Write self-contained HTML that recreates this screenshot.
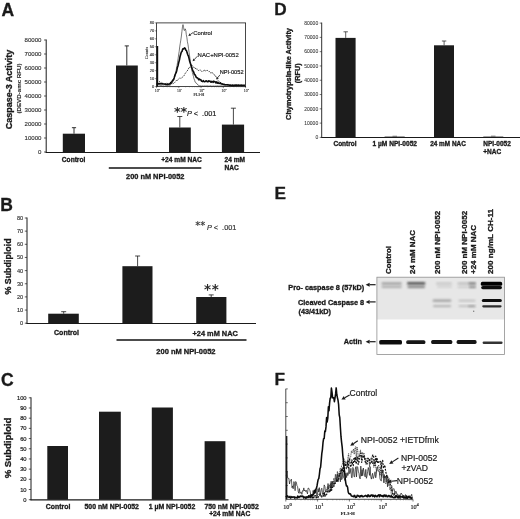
<!DOCTYPE html>
<html lang="en">
<head>
<meta charset="utf-8">
<title>Figure</title>
<style>
html,body{margin:0;padding:0;background:#fff;}
body{width:520px;height:519px;overflow:hidden;}
svg{display:block;filter:blur(0.4px);font-family:"Liberation Sans",sans-serif;fill:#1a1a1a;}
</style>
</head>
<body>
<svg width="520" height="519" viewBox="0 0 520 519">
<defs>
<filter id="b6" x="-10%" y="-60%" width="120%" height="220%"><feGaussianBlur stdDeviation="0.6"/></filter>
<filter id="b7" x="-10%" y="-60%" width="120%" height="220%"><feGaussianBlur stdDeviation="0.7"/></filter>
<filter id="b8" x="-10%" y="-60%" width="120%" height="220%"><feGaussianBlur stdDeviation="0.8"/></filter>
<filter id="b9" x="-10%" y="-80%" width="120%" height="260%"><feGaussianBlur stdDeviation="0.9"/></filter>
</defs>
<rect width="520" height="519" fill="#fff"/>
<text x="1.50" y="15.60" font-size="17.5" stroke="#1a1a1a" stroke-width="0.32" font-weight="bold">A</text>
<line x1="46.20" y1="39.50" x2="46.20" y2="152.80" stroke="#1a1a1a" stroke-width="1.0" />
<line x1="45.70" y1="152.50" x2="260.00" y2="152.50" stroke="#1a1a1a" stroke-width="1.1" />
<line x1="44.00" y1="152.00" x2="46.20" y2="152.00" stroke="#1a1a1a" stroke-width="0.7" />
<text x="41.50" y="154.20" font-size="6.1" stroke="#2c2c2c" stroke-width="0.12" text-anchor="end" fill="#2c2c2c">0</text>
<line x1="44.00" y1="138.00" x2="46.20" y2="138.00" stroke="#1a1a1a" stroke-width="0.7" />
<text x="41.50" y="140.20" font-size="6.1" stroke="#2c2c2c" stroke-width="0.12" text-anchor="end" fill="#2c2c2c">10000</text>
<line x1="44.00" y1="124.00" x2="46.20" y2="124.00" stroke="#1a1a1a" stroke-width="0.7" />
<text x="41.50" y="126.20" font-size="6.1" stroke="#2c2c2c" stroke-width="0.12" text-anchor="end" fill="#2c2c2c">20000</text>
<line x1="44.00" y1="110.00" x2="46.20" y2="110.00" stroke="#1a1a1a" stroke-width="0.7" />
<text x="41.50" y="112.20" font-size="6.1" stroke="#2c2c2c" stroke-width="0.12" text-anchor="end" fill="#2c2c2c">30000</text>
<line x1="44.00" y1="96.00" x2="46.20" y2="96.00" stroke="#1a1a1a" stroke-width="0.7" />
<text x="41.50" y="98.20" font-size="6.1" stroke="#2c2c2c" stroke-width="0.12" text-anchor="end" fill="#2c2c2c">40000</text>
<line x1="44.00" y1="82.00" x2="46.20" y2="82.00" stroke="#1a1a1a" stroke-width="0.7" />
<text x="41.50" y="84.20" font-size="6.1" stroke="#2c2c2c" stroke-width="0.12" text-anchor="end" fill="#2c2c2c">50000</text>
<line x1="44.00" y1="68.00" x2="46.20" y2="68.00" stroke="#1a1a1a" stroke-width="0.7" />
<text x="41.50" y="70.20" font-size="6.1" stroke="#2c2c2c" stroke-width="0.12" text-anchor="end" fill="#2c2c2c">60000</text>
<line x1="44.00" y1="54.00" x2="46.20" y2="54.00" stroke="#1a1a1a" stroke-width="0.7" />
<text x="41.50" y="56.20" font-size="6.1" stroke="#2c2c2c" stroke-width="0.12" text-anchor="end" fill="#2c2c2c">70000</text>
<line x1="44.00" y1="40.00" x2="46.20" y2="40.00" stroke="#1a1a1a" stroke-width="0.7" />
<text x="41.50" y="42.20" font-size="6.1" stroke="#2c2c2c" stroke-width="0.12" text-anchor="end" fill="#2c2c2c">80000</text>
<text x="11.80" y="89.50" font-size="9" stroke="#1a1a1a" stroke-width="0.32" font-weight="bold" text-anchor="middle" transform="rotate(-90 11.80 89.50)">Caspase-3 Activity</text>
<text x="20.60" y="88.50" font-size="6.2" stroke="#2a2a2a" stroke-width="0.1" font-weight="bold" text-anchor="middle" fill="#2a2a2a" transform="rotate(-90 20.60 88.50)">(DEVD-amc RFU)</text>
<rect x="62.80" y="133.70" width="22.20" height="18.30" fill="#1c1c1c" />
<line x1="74.00" y1="127.70" x2="74.00" y2="133.70" stroke="#1a1a1a" stroke-width="0.9" />
<line x1="71.90" y1="127.70" x2="76.10" y2="127.70" stroke="#1a1a1a" stroke-width="0.9" />
<rect x="116.00" y="65.50" width="21.80" height="86.50" fill="#1c1c1c" />
<line x1="126.80" y1="45.90" x2="126.80" y2="65.50" stroke="#1a1a1a" stroke-width="0.9" />
<line x1="124.70" y1="45.90" x2="128.90" y2="45.90" stroke="#1a1a1a" stroke-width="0.9" />
<rect x="169.00" y="127.50" width="21.80" height="24.50" fill="#1c1c1c" />
<line x1="179.80" y1="116.50" x2="179.80" y2="127.50" stroke="#1a1a1a" stroke-width="0.8" />
<line x1="177.30" y1="116.50" x2="182.30" y2="116.50" stroke="#1a1a1a" stroke-width="0.8" />
<rect x="221.90" y="124.60" width="22.20" height="27.40" fill="#1c1c1c" />
<line x1="233.40" y1="108.20" x2="233.40" y2="124.60" stroke="#1a1a1a" stroke-width="0.8" />
<line x1="230.90" y1="108.20" x2="235.90" y2="108.20" stroke="#1a1a1a" stroke-width="0.8" />
<text x="73.60" y="162.40" font-size="6.6" stroke="#1a1a1a" stroke-width="0.32" font-weight="bold" text-anchor="middle">Control</text>
<text x="181.50" y="162.40" font-size="6.6" stroke="#1a1a1a" stroke-width="0.32" font-weight="bold" text-anchor="middle">+24 mM NAC</text>
<text x="224.50" y="162.40" font-size="6.6" stroke="#1a1a1a" stroke-width="0.32" font-weight="bold">24 mM</text>
<text x="224.50" y="170.30" font-size="6.6" stroke="#1a1a1a" stroke-width="0.32" font-weight="bold">NAC</text>
<line x1="108.80" y1="168.00" x2="201.30" y2="168.00" stroke="#111" stroke-width="1.3" />
<text x="155.20" y="179.10" font-size="7.4" stroke="#1a1a1a" stroke-width="0.32" font-weight="bold" text-anchor="middle">200 nM NPI-0052</text>
<text x="173.90" y="116.00" font-size="12.8" font-weight="bold" font-family="'DejaVu Sans',sans-serif" fill="#2a2a2a">**</text>
<text x="186.90" y="116.20" font-size="7.3" stroke="#1a1a1a" stroke-width="0.18"><tspan font-style="italic">P</tspan> &lt;&#160; .001</text>
<rect x="156.6" y="22.9" width="89.0" height="63.7" fill="#fff" stroke="#1a1a1a" stroke-width="0.8"/>
<line x1="156.60" y1="86.60" x2="156.60" y2="88.10" stroke="#1a1a1a" stroke-width="0.5" />
<text x="154.80" y="91.60" font-size="3.8" stroke="#333" stroke-width="0.1" font-family="'Liberation Serif',serif" fill="#333">10<tspan dy="-1.5" font-size="2.8">0</tspan></text>
<line x1="163.30" y1="86.60" x2="163.30" y2="87.50" stroke="#555" stroke-width="0.3" />
<line x1="167.22" y1="86.60" x2="167.22" y2="87.50" stroke="#555" stroke-width="0.3" />
<line x1="170.00" y1="86.60" x2="170.00" y2="87.50" stroke="#555" stroke-width="0.3" />
<line x1="172.15" y1="86.60" x2="172.15" y2="87.50" stroke="#555" stroke-width="0.3" />
<line x1="173.91" y1="86.60" x2="173.91" y2="87.50" stroke="#555" stroke-width="0.3" />
<line x1="175.40" y1="86.60" x2="175.40" y2="87.50" stroke="#555" stroke-width="0.3" />
<line x1="176.69" y1="86.60" x2="176.69" y2="87.50" stroke="#555" stroke-width="0.3" />
<line x1="177.83" y1="86.60" x2="177.83" y2="87.50" stroke="#555" stroke-width="0.3" />
<line x1="178.85" y1="86.60" x2="178.85" y2="88.10" stroke="#1a1a1a" stroke-width="0.5" />
<text x="177.05" y="91.60" font-size="3.8" stroke="#333" stroke-width="0.1" font-family="'Liberation Serif',serif" fill="#333">10<tspan dy="-1.5" font-size="2.8">1</tspan></text>
<line x1="185.55" y1="86.60" x2="185.55" y2="87.50" stroke="#555" stroke-width="0.3" />
<line x1="189.47" y1="86.60" x2="189.47" y2="87.50" stroke="#555" stroke-width="0.3" />
<line x1="192.25" y1="86.60" x2="192.25" y2="87.50" stroke="#555" stroke-width="0.3" />
<line x1="194.40" y1="86.60" x2="194.40" y2="87.50" stroke="#555" stroke-width="0.3" />
<line x1="196.16" y1="86.60" x2="196.16" y2="87.50" stroke="#555" stroke-width="0.3" />
<line x1="197.65" y1="86.60" x2="197.65" y2="87.50" stroke="#555" stroke-width="0.3" />
<line x1="198.94" y1="86.60" x2="198.94" y2="87.50" stroke="#555" stroke-width="0.3" />
<line x1="200.08" y1="86.60" x2="200.08" y2="87.50" stroke="#555" stroke-width="0.3" />
<line x1="201.10" y1="86.60" x2="201.10" y2="88.10" stroke="#1a1a1a" stroke-width="0.5" />
<text x="199.30" y="91.60" font-size="3.8" stroke="#333" stroke-width="0.1" font-family="'Liberation Serif',serif" fill="#333">10<tspan dy="-1.5" font-size="2.8">2</tspan></text>
<line x1="207.80" y1="86.60" x2="207.80" y2="87.50" stroke="#555" stroke-width="0.3" />
<line x1="211.72" y1="86.60" x2="211.72" y2="87.50" stroke="#555" stroke-width="0.3" />
<line x1="214.50" y1="86.60" x2="214.50" y2="87.50" stroke="#555" stroke-width="0.3" />
<line x1="216.65" y1="86.60" x2="216.65" y2="87.50" stroke="#555" stroke-width="0.3" />
<line x1="218.41" y1="86.60" x2="218.41" y2="87.50" stroke="#555" stroke-width="0.3" />
<line x1="219.90" y1="86.60" x2="219.90" y2="87.50" stroke="#555" stroke-width="0.3" />
<line x1="221.19" y1="86.60" x2="221.19" y2="87.50" stroke="#555" stroke-width="0.3" />
<line x1="222.33" y1="86.60" x2="222.33" y2="87.50" stroke="#555" stroke-width="0.3" />
<line x1="223.35" y1="86.60" x2="223.35" y2="88.10" stroke="#1a1a1a" stroke-width="0.5" />
<text x="221.55" y="91.60" font-size="3.8" stroke="#333" stroke-width="0.1" font-family="'Liberation Serif',serif" fill="#333">10<tspan dy="-1.5" font-size="2.8">3</tspan></text>
<line x1="230.05" y1="86.60" x2="230.05" y2="87.50" stroke="#555" stroke-width="0.3" />
<line x1="233.97" y1="86.60" x2="233.97" y2="87.50" stroke="#555" stroke-width="0.3" />
<line x1="236.75" y1="86.60" x2="236.75" y2="87.50" stroke="#555" stroke-width="0.3" />
<line x1="238.90" y1="86.60" x2="238.90" y2="87.50" stroke="#555" stroke-width="0.3" />
<line x1="240.66" y1="86.60" x2="240.66" y2="87.50" stroke="#555" stroke-width="0.3" />
<line x1="242.15" y1="86.60" x2="242.15" y2="87.50" stroke="#555" stroke-width="0.3" />
<line x1="243.44" y1="86.60" x2="243.44" y2="87.50" stroke="#555" stroke-width="0.3" />
<line x1="244.58" y1="86.60" x2="244.58" y2="87.50" stroke="#555" stroke-width="0.3" />
<line x1="245.60" y1="86.60" x2="245.60" y2="88.10" stroke="#1a1a1a" stroke-width="0.5" />
<text x="243.80" y="91.60" font-size="3.8" stroke="#333" stroke-width="0.1" font-family="'Liberation Serif',serif" fill="#333">10<tspan dy="-1.5" font-size="2.8">4</tspan></text>
<line x1="155.10" y1="86.60" x2="156.60" y2="86.60" stroke="#1a1a1a" stroke-width="0.5" />
<text x="154.30" y="88.00" font-size="4.0" stroke="#333" stroke-width="0.14" text-anchor="end" fill="#333">0</text>
<line x1="155.10" y1="78.64" x2="156.60" y2="78.64" stroke="#1a1a1a" stroke-width="0.5" />
<text x="154.30" y="80.04" font-size="4.0" stroke="#333" stroke-width="0.14" text-anchor="end" fill="#333">10</text>
<line x1="155.10" y1="70.67" x2="156.60" y2="70.67" stroke="#1a1a1a" stroke-width="0.5" />
<text x="154.30" y="72.08" font-size="4.0" stroke="#333" stroke-width="0.14" text-anchor="end" fill="#333">20</text>
<line x1="155.10" y1="62.71" x2="156.60" y2="62.71" stroke="#1a1a1a" stroke-width="0.5" />
<text x="154.30" y="64.11" font-size="4.0" stroke="#333" stroke-width="0.14" text-anchor="end" fill="#333">30</text>
<line x1="155.10" y1="54.75" x2="156.60" y2="54.75" stroke="#1a1a1a" stroke-width="0.5" />
<text x="154.30" y="56.15" font-size="4.0" stroke="#333" stroke-width="0.14" text-anchor="end" fill="#333">40</text>
<line x1="155.10" y1="46.79" x2="156.60" y2="46.79" stroke="#1a1a1a" stroke-width="0.5" />
<text x="154.30" y="48.19" font-size="4.0" stroke="#333" stroke-width="0.14" text-anchor="end" fill="#333">50</text>
<line x1="155.10" y1="38.82" x2="156.60" y2="38.82" stroke="#1a1a1a" stroke-width="0.5" />
<text x="154.30" y="40.22" font-size="4.0" stroke="#333" stroke-width="0.14" text-anchor="end" fill="#333">60</text>
<line x1="155.10" y1="30.86" x2="156.60" y2="30.86" stroke="#1a1a1a" stroke-width="0.5" />
<text x="154.30" y="32.26" font-size="4.0" stroke="#333" stroke-width="0.14" text-anchor="end" fill="#333">70</text>
<line x1="155.10" y1="22.90" x2="156.60" y2="22.90" stroke="#1a1a1a" stroke-width="0.5" />
<text x="154.30" y="24.30" font-size="4.0" stroke="#333" stroke-width="0.14" text-anchor="end" fill="#333">80</text>
<text x="148.20" y="53.00" font-size="4.4" stroke="#333" stroke-width="0.1" text-anchor="middle" font-family="'Liberation Serif',serif" fill="#333" transform="rotate(-90 148.20 53.00)">Counts</text>
<text x="198.80" y="95.60" font-size="3.7" stroke="#333" stroke-width="0.1" font-weight="bold" text-anchor="middle" font-family="'Liberation Serif',serif" fill="#333">FL3-H</text>
<polyline points="156.6,84.2 157.2,84.5 157.7,84.0 158.3,84.9 158.8,84.6 159.4,85.0 159.9,85.3 160.5,85.4 161.0,85.7 161.6,85.7 162.1,86.0 162.7,86.0 163.2,86.0 163.8,85.8 164.3,86.1 164.9,86.1 165.4,85.9 166.0,85.8 166.5,85.9 167.1,85.9 167.6,85.6 168.2,85.9 168.7,85.4 169.3,85.5 169.8,85.3 170.4,85.0 170.9,84.6 171.5,83.5 172.0,83.5 172.6,82.2 173.1,81.0 173.7,80.0 174.2,78.2 174.8,76.9 175.3,74.7 175.9,72.1 176.4,68.7 177.0,65.8 177.5,62.6 178.1,58.6 178.6,55.0 179.2,51.3 179.7,46.9 180.3,43.2 180.8,40.1 181.4,36.0 181.9,31.6 182.5,26.6 183.0,24.6 183.6,27.6 184.1,30.4 184.7,30.4 185.2,28.8 185.8,30.4 186.3,34.6 186.9,37.7 187.4,41.7 188.0,44.6 188.5,48.3 189.1,52.4 189.6,55.9 190.2,60.3 190.7,63.4 191.3,66.8 191.8,69.8 192.4,72.7 192.9,74.6 193.5,76.6 194.0,78.9 194.6,80.2 195.1,82.1 195.7,82.4 196.2,83.3 196.8,83.5 197.3,84.2 197.9,85.0 198.4,85.3 199.0,85.4 199.5,85.8 200.1,85.7 200.6,85.9 201.2,86.0 201.7,86.1 202.3,85.8 202.8,86.1 203.4,86.1 203.9,86.0 204.5,85.9 205.0,86.1 205.6,86.0 206.1,86.0 206.7,85.9 207.2,85.9 207.8,85.9 208.3,86.1 208.9,86.0 209.4,86.1 210.0,85.9 210.5,85.8 211.1,86.1 211.6,86.1 212.2,86.1 212.7,86.1 213.3,86.0 213.8,86.0 214.4,86.1 214.9,86.2 215.5,86.0 216.0,86.0 216.6,86.0 217.1,85.8 217.7,85.9 218.2,86.0 218.8,86.0 219.3,85.9 219.9,86.2 220.4,85.9 221.0,85.9 221.5,85.9 222.1,85.9 222.6,86.0 223.2,86.0 223.7,86.1 224.3,86.0 224.8,86.2 225.4,86.2 225.9,86.1 226.5,86.1 227.0,86.1 227.6,86.2 228.1,86.2 228.7,86.1 229.2,86.1 229.8,86.0 230.3,86.2 230.9,85.9 231.4,86.0 232.0,86.1 232.5,86.1 233.1,86.1 233.6,86.0 234.2,86.1 234.7,85.9 235.3,85.8 235.8,86.0 236.4,86.0 236.9,86.1 237.5,86.1 238.0,86.1 238.6,86.1 239.1,85.9 239.7,86.1 240.2,86.2 240.8,85.8 241.3,86.0 241.9,86.1 242.4,86.0 243.0,86.2 243.5,86.0 244.1,85.8 244.6,85.9 245.2,85.9" fill="none" stroke="#1c1c1c" stroke-width="0.6" stroke-linejoin="round" />
<polyline points="159.1,81.2 159.9,81.9 160.7,83.0 161.5,82.4 162.3,83.2 163.1,83.1 163.9,84.1 164.7,84.5 165.5,83.5 166.3,83.2 167.1,83.4 167.9,83.5 168.7,83.4 169.5,83.4 170.3,84.1 171.1,83.4 171.9,83.5 172.7,83.8 173.5,83.4 174.3,82.6 175.1,82.3 175.9,81.0 176.7,80.1 177.5,80.5 178.3,79.1 179.1,78.4 179.9,77.9 180.7,78.3 181.5,78.0 182.3,77.3 183.1,76.7 183.9,75.9 184.7,74.3 185.5,72.9 186.3,71.9 187.1,71.3 187.9,69.7 188.7,68.2 189.5,68.3 190.3,66.4 191.1,65.4 191.9,65.5 192.7,65.8 193.5,66.8 194.3,68.1 195.1,67.8 195.9,69.3 196.7,69.0 197.5,69.2 198.3,70.5 199.1,70.7 199.9,69.8 200.7,70.3 201.5,71.3 202.3,71.4 203.1,71.3 203.9,70.0 204.7,70.2 205.5,71.4 206.3,70.3 207.1,70.1 207.9,70.8 208.7,71.6 209.5,71.5 210.3,72.6 211.1,73.2 211.9,72.0 212.7,73.2 213.5,74.2 214.3,74.3 215.1,76.2 215.9,76.4 216.7,77.6 217.5,79.7 218.3,80.7 219.1,81.5 219.9,82.4 220.7,82.5 221.5,83.7 222.3,83.9 223.1,84.8 223.9,83.7 224.7,84.9 225.5,84.9 226.3,84.8 227.1,84.3 227.9,85.3 228.7,84.5 229.5,85.3 230.3,85.2 231.1,85.3 231.9,86.2 232.7,85.5 233.5,85.9 234.3,86.3 235.1,84.8 235.9,86.0 236.7,85.4 237.5,85.0" fill="none" stroke="#151515" stroke-width="0.8" stroke-linejoin="round" stroke-dasharray="1.3 0.8"/>
<line x1="157.40" y1="46.00" x2="157.40" y2="86.60" stroke="#111" stroke-width="1.6" />
<polyline points="156.6,84.0 157.2,84.0 157.9,83.8 158.6,83.7 159.2,83.6 159.9,83.9 160.5,83.7 161.2,83.8 161.8,83.9 162.5,83.8 163.1,84.0 163.8,84.0 164.4,84.0 165.1,84.1 165.7,84.4 166.4,84.3 167.0,84.4 167.7,84.4 168.3,84.2 169.0,84.2 169.6,83.9 170.3,83.6 170.9,82.4 171.6,82.1 172.2,81.1 172.9,80.0 173.5,79.7 174.2,77.8 174.8,75.6 175.5,73.8 176.1,72.7 176.8,70.4 177.4,67.4 178.1,65.4 178.7,62.5 179.4,60.1 180.0,56.8 180.7,54.3 181.3,52.1 182.0,51.5 182.6,49.4 183.3,48.6 183.9,48.9 184.6,47.9 185.2,48.3 185.9,50.3 186.5,50.6 187.2,53.1 187.8,54.8 188.5,56.2 189.1,58.6 189.8,61.7 190.4,63.5 191.1,65.4 191.7,67.6 192.4,69.6 193.0,71.1 193.7,72.0 194.3,74.3 195.0,74.7 195.6,75.9 196.3,77.4 196.9,77.8 197.6,78.0 198.2,78.8 198.9,79.9 199.5,79.0 200.2,79.7 200.8,79.7 201.5,81.2 202.1,81.2 202.8,81.6 203.4,80.7 204.1,81.5 204.7,81.8 205.4,81.4 206.0,80.7 206.7,80.9 207.3,81.7 208.0,81.8 208.6,80.8 209.3,81.3 209.9,81.1 210.6,82.0 211.2,82.1 211.9,81.3 212.5,81.7 213.2,82.3 213.8,81.2 214.5,81.8 215.1,81.7 215.8,82.9 216.4,81.9 217.1,83.2 217.7,82.3 218.4,83.0 219.0,83.4 219.7,83.2 220.3,82.9 221.0,83.7 221.6,84.0 222.3,83.9 222.9,84.2 223.6,84.4 224.2,84.5 224.9,84.7 225.5,84.7 226.2,84.8 226.8,84.8 227.5,84.7 228.1,85.0 228.8,85.0 229.4,85.2 230.1,85.1 230.7,85.3 231.4,85.2 232.0,85.4 232.7,85.1 233.3,85.2 234.0,85.4 234.6,85.3 235.3,85.1 235.9,85.4 236.6,85.1 237.2,85.3 237.9,85.3 238.5,85.1 239.2,85.3 239.8,85.3 240.5,85.2 241.1,85.1 241.8,85.4 242.4,85.2 243.1,85.2 243.7,85.2 244.4,85.3 245.0,85.4" fill="none" stroke="#0c0c0c" stroke-width="1.6" stroke-linejoin="round" />
<text x="193.30" y="34.60" font-size="5.8" stroke="#1a1a1a" stroke-width="0.18">Control</text>
<line x1="193.00" y1="32.60" x2="190.43" y2="34.41" stroke="#1a1a1a" stroke-width="0.8" />
<polygon points="188.30,35.90 189.68,33.34 191.17,35.47" fill="#1a1a1a"/>
<text x="197.60" y="56.90" font-size="5.95" stroke="#1a1a1a" stroke-width="0.18">NAC+NPI-0052</text>
<line x1="197.40" y1="56.20" x2="194.38" y2="59.41" stroke="#1a1a1a" stroke-width="0.8" />
<polygon points="192.60,61.30 193.44,58.52 195.33,60.30" fill="#1a1a1a"/>
<text x="219.70" y="74.20" font-size="5.65" stroke="#1a1a1a" stroke-width="0.18">NPI-0052</text>
<line x1="220.00" y1="74.80" x2="217.83" y2="77.48" stroke="#1a1a1a" stroke-width="0.8" />
<polygon points="216.20,79.50 216.82,76.66 218.85,78.30" fill="#1a1a1a"/>
<text x="0.30" y="211.20" font-size="17.5" stroke="#1a1a1a" stroke-width="0.32" font-weight="bold">B</text>
<line x1="27.00" y1="217.50" x2="27.00" y2="323.70" stroke="#1a1a1a" stroke-width="1.0" />
<line x1="26.50" y1="323.50" x2="256.00" y2="323.50" stroke="#1a1a1a" stroke-width="1.1" />
<line x1="24.80" y1="323.20" x2="27.00" y2="323.20" stroke="#1a1a1a" stroke-width="0.7" />
<text x="23.20" y="325.20" font-size="5.6" stroke="#2c2c2c" stroke-width="0.12" text-anchor="end" fill="#2c2c2c">0</text>
<line x1="24.80" y1="310.05" x2="27.00" y2="310.05" stroke="#1a1a1a" stroke-width="0.7" />
<text x="23.20" y="312.05" font-size="5.6" stroke="#2c2c2c" stroke-width="0.12" text-anchor="end" fill="#2c2c2c">10</text>
<line x1="24.80" y1="296.90" x2="27.00" y2="296.90" stroke="#1a1a1a" stroke-width="0.7" />
<text x="23.20" y="298.90" font-size="5.6" stroke="#2c2c2c" stroke-width="0.12" text-anchor="end" fill="#2c2c2c">20</text>
<line x1="24.80" y1="283.75" x2="27.00" y2="283.75" stroke="#1a1a1a" stroke-width="0.7" />
<text x="23.20" y="285.75" font-size="5.6" stroke="#2c2c2c" stroke-width="0.12" text-anchor="end" fill="#2c2c2c">30</text>
<line x1="24.80" y1="270.60" x2="27.00" y2="270.60" stroke="#1a1a1a" stroke-width="0.7" />
<text x="23.20" y="272.60" font-size="5.6" stroke="#2c2c2c" stroke-width="0.12" text-anchor="end" fill="#2c2c2c">40</text>
<line x1="24.80" y1="257.45" x2="27.00" y2="257.45" stroke="#1a1a1a" stroke-width="0.7" />
<text x="23.20" y="259.45" font-size="5.6" stroke="#2c2c2c" stroke-width="0.12" text-anchor="end" fill="#2c2c2c">50</text>
<line x1="24.80" y1="244.30" x2="27.00" y2="244.30" stroke="#1a1a1a" stroke-width="0.7" />
<text x="23.20" y="246.30" font-size="5.6" stroke="#2c2c2c" stroke-width="0.12" text-anchor="end" fill="#2c2c2c">60</text>
<line x1="24.80" y1="231.15" x2="27.00" y2="231.15" stroke="#1a1a1a" stroke-width="0.7" />
<text x="23.20" y="233.15" font-size="5.6" stroke="#2c2c2c" stroke-width="0.12" text-anchor="end" fill="#2c2c2c">70</text>
<line x1="24.80" y1="218.00" x2="27.00" y2="218.00" stroke="#1a1a1a" stroke-width="0.7" />
<text x="23.20" y="220.00" font-size="5.6" stroke="#2c2c2c" stroke-width="0.12" text-anchor="end" fill="#2c2c2c">80</text>
<text x="11.10" y="266.50" font-size="8.9" stroke="#1a1a1a" stroke-width="0.32" font-weight="bold" text-anchor="middle" transform="rotate(-90 11.10 266.50)">% Subdiploid</text>
<rect x="48.20" y="313.70" width="30.60" height="9.50" fill="#1c1c1c" />
<line x1="63.70" y1="311.70" x2="63.70" y2="313.70" stroke="#1a1a1a" stroke-width="0.8" />
<line x1="61.20" y1="311.70" x2="66.20" y2="311.70" stroke="#1a1a1a" stroke-width="0.8" />
<rect x="122.40" y="266.20" width="30.10" height="57.00" fill="#1c1c1c" />
<line x1="137.60" y1="256.00" x2="137.60" y2="266.20" stroke="#1a1a1a" stroke-width="0.8" />
<line x1="135.10" y1="256.00" x2="140.10" y2="256.00" stroke="#1a1a1a" stroke-width="0.8" />
<rect x="196.20" y="297.00" width="30.20" height="26.20" fill="#1c1c1c" />
<line x1="211.20" y1="294.90" x2="211.20" y2="297.00" stroke="#1a1a1a" stroke-width="0.8" />
<line x1="208.70" y1="294.90" x2="213.70" y2="294.90" stroke="#1a1a1a" stroke-width="0.8" />
<text x="66.50" y="335.00" font-size="7.0" stroke="#1a1a1a" stroke-width="0.32" font-weight="bold" text-anchor="middle">Control</text>
<text x="215.20" y="335.60" font-size="7.4" stroke="#1a1a1a" stroke-width="0.32" font-weight="bold" text-anchor="middle">+24 mM NAC</text>
<line x1="116.50" y1="340.00" x2="246.50" y2="340.00" stroke="#111" stroke-width="1.3" />
<text x="185.90" y="353.60" font-size="7.5" stroke="#1a1a1a" stroke-width="0.32" font-weight="bold" text-anchor="middle">200 nM NPI-0052</text>
<text x="207.60" y="294.10" font-size="13.5" font-weight="bold" text-anchor="middle" font-family="'DejaVu Sans',sans-serif" fill="#2a2a2a">*</text>
<text x="215.40" y="294.10" font-size="13.5" font-weight="bold" text-anchor="middle" font-family="'DejaVu Sans',sans-serif" fill="#2a2a2a">*</text>
<text x="195.20" y="229.00" font-size="9.6" font-weight="bold" font-family="'DejaVu Sans',sans-serif" fill="#444">**</text>
<text x="206.90" y="229.80" font-size="7.3" stroke="#333" stroke-width="0.18" fill="#333"><tspan font-style="italic">P</tspan> &lt;&#160; .001</text>
<text x="1.00" y="386.00" font-size="17.5" stroke="#1a1a1a" stroke-width="0.32" font-weight="bold">C</text>
<line x1="31.00" y1="397.30" x2="31.00" y2="500.20" stroke="#1a1a1a" stroke-width="1.0" />
<line x1="30.50" y1="499.90" x2="228.50" y2="499.90" stroke="#1a1a1a" stroke-width="1.1" />
<line x1="28.80" y1="499.70" x2="31.00" y2="499.70" stroke="#1a1a1a" stroke-width="0.7" />
<text x="26.60" y="501.80" font-size="5.8" stroke="#1c1c1c" stroke-width="0.2" text-anchor="end" fill="#1c1c1c">0</text>
<line x1="28.80" y1="489.51" x2="31.00" y2="489.51" stroke="#1a1a1a" stroke-width="0.7" />
<text x="26.60" y="491.61" font-size="5.8" stroke="#1c1c1c" stroke-width="0.2" text-anchor="end" fill="#1c1c1c">10</text>
<line x1="28.80" y1="479.32" x2="31.00" y2="479.32" stroke="#1a1a1a" stroke-width="0.7" />
<text x="26.60" y="481.42" font-size="5.8" stroke="#1c1c1c" stroke-width="0.2" text-anchor="end" fill="#1c1c1c">20</text>
<line x1="28.80" y1="469.13" x2="31.00" y2="469.13" stroke="#1a1a1a" stroke-width="0.7" />
<text x="26.60" y="471.23" font-size="5.8" stroke="#1c1c1c" stroke-width="0.2" text-anchor="end" fill="#1c1c1c">30</text>
<line x1="28.80" y1="458.94" x2="31.00" y2="458.94" stroke="#1a1a1a" stroke-width="0.7" />
<text x="26.60" y="461.04" font-size="5.8" stroke="#1c1c1c" stroke-width="0.2" text-anchor="end" fill="#1c1c1c">40</text>
<line x1="28.80" y1="448.75" x2="31.00" y2="448.75" stroke="#1a1a1a" stroke-width="0.7" />
<text x="26.60" y="450.85" font-size="5.8" stroke="#1c1c1c" stroke-width="0.2" text-anchor="end" fill="#1c1c1c">50</text>
<line x1="28.80" y1="438.56" x2="31.00" y2="438.56" stroke="#1a1a1a" stroke-width="0.7" />
<text x="26.60" y="440.66" font-size="5.8" stroke="#1c1c1c" stroke-width="0.2" text-anchor="end" fill="#1c1c1c">60</text>
<line x1="28.80" y1="428.37" x2="31.00" y2="428.37" stroke="#1a1a1a" stroke-width="0.7" />
<text x="26.60" y="430.47" font-size="5.8" stroke="#1c1c1c" stroke-width="0.2" text-anchor="end" fill="#1c1c1c">70</text>
<line x1="28.80" y1="418.18" x2="31.00" y2="418.18" stroke="#1a1a1a" stroke-width="0.7" />
<text x="26.60" y="420.28" font-size="5.8" stroke="#1c1c1c" stroke-width="0.2" text-anchor="end" fill="#1c1c1c">80</text>
<line x1="28.80" y1="407.99" x2="31.00" y2="407.99" stroke="#1a1a1a" stroke-width="0.7" />
<text x="26.60" y="410.09" font-size="5.8" stroke="#1c1c1c" stroke-width="0.2" text-anchor="end" fill="#1c1c1c">90</text>
<line x1="28.80" y1="397.80" x2="31.00" y2="397.80" stroke="#1a1a1a" stroke-width="0.7" />
<text x="26.60" y="399.90" font-size="5.8" stroke="#1c1c1c" stroke-width="0.2" text-anchor="end" fill="#1c1c1c">100</text>
<text x="11.40" y="448.00" font-size="9.6" stroke="#1a1a1a" stroke-width="0.32" font-weight="bold" text-anchor="middle" transform="rotate(-90 11.40 448.00)">% Subdiploid</text>
<rect x="47.30" y="446.00" width="20.70" height="53.70" fill="#1c1c1c" />
<rect x="99.00" y="411.70" width="21.80" height="88.00" fill="#1c1c1c" />
<rect x="151.80" y="407.50" width="21.10" height="92.20" fill="#1c1c1c" />
<rect x="204.60" y="441.20" width="20.80" height="58.50" fill="#1c1c1c" />
<text x="58.10" y="509.30" font-size="6.9" stroke="#1a1a1a" stroke-width="0.32" font-weight="bold" text-anchor="middle">Control</text>
<text x="111.70" y="508.60" font-size="6.9" stroke="#1a1a1a" stroke-width="0.32" font-weight="bold" text-anchor="middle">500 nM NPI-0052</text>
<text x="172.00" y="508.60" font-size="6.9" stroke="#1a1a1a" stroke-width="0.32" font-weight="bold" text-anchor="middle">1 µM NPI-0052</text>
<text x="231.60" y="508.60" font-size="6.9" stroke="#1a1a1a" stroke-width="0.32" font-weight="bold" text-anchor="middle">750 nM NPI-0052</text>
<text x="229.70" y="515.90" font-size="6.7" stroke="#1a1a1a" stroke-width="0.32" font-weight="bold" text-anchor="middle">+24 mM NAC</text>
<text x="274.20" y="15.40" font-size="17.2" stroke="#1a1a1a" stroke-width="0.32" font-weight="bold">D</text>
<line x1="321.70" y1="22.60" x2="321.70" y2="137.80" stroke="#1a1a1a" stroke-width="0.9" />
<line x1="321.30" y1="137.50" x2="520.00" y2="137.50" stroke="#1a1a1a" stroke-width="1.0" />
<line x1="319.70" y1="137.40" x2="321.70" y2="137.40" stroke="#1a1a1a" stroke-width="0.6" />
<text x="318.20" y="139.20" font-size="5.0" stroke="#3a3a3a" stroke-width="0.08" text-anchor="end" fill="#3a3a3a">0</text>
<line x1="319.70" y1="123.11" x2="321.70" y2="123.11" stroke="#1a1a1a" stroke-width="0.6" />
<text x="318.20" y="124.91" font-size="5.0" stroke="#3a3a3a" stroke-width="0.08" text-anchor="end" fill="#3a3a3a">10000</text>
<line x1="319.70" y1="108.83" x2="321.70" y2="108.83" stroke="#1a1a1a" stroke-width="0.6" />
<text x="318.20" y="110.62" font-size="5.0" stroke="#3a3a3a" stroke-width="0.08" text-anchor="end" fill="#3a3a3a">20000</text>
<line x1="319.70" y1="94.54" x2="321.70" y2="94.54" stroke="#1a1a1a" stroke-width="0.6" />
<text x="318.20" y="96.34" font-size="5.0" stroke="#3a3a3a" stroke-width="0.08" text-anchor="end" fill="#3a3a3a">30000</text>
<line x1="319.70" y1="80.25" x2="321.70" y2="80.25" stroke="#1a1a1a" stroke-width="0.6" />
<text x="318.20" y="82.05" font-size="5.0" stroke="#3a3a3a" stroke-width="0.08" text-anchor="end" fill="#3a3a3a">40000</text>
<line x1="319.70" y1="65.96" x2="321.70" y2="65.96" stroke="#1a1a1a" stroke-width="0.6" />
<text x="318.20" y="67.76" font-size="5.0" stroke="#3a3a3a" stroke-width="0.08" text-anchor="end" fill="#3a3a3a">50000</text>
<line x1="319.70" y1="51.67" x2="321.70" y2="51.67" stroke="#1a1a1a" stroke-width="0.6" />
<text x="318.20" y="53.47" font-size="5.0" stroke="#3a3a3a" stroke-width="0.08" text-anchor="end" fill="#3a3a3a">60000</text>
<line x1="319.70" y1="37.39" x2="321.70" y2="37.39" stroke="#1a1a1a" stroke-width="0.6" />
<text x="318.20" y="39.19" font-size="5.0" stroke="#3a3a3a" stroke-width="0.08" text-anchor="end" fill="#3a3a3a">70000</text>
<line x1="319.70" y1="23.10" x2="321.70" y2="23.10" stroke="#1a1a1a" stroke-width="0.6" />
<text x="318.20" y="24.90" font-size="5.0" stroke="#3a3a3a" stroke-width="0.08" text-anchor="end" fill="#3a3a3a">80000</text>
<text x="291.30" y="74.00" font-size="7.3" stroke="#1a1a1a" stroke-width="0.32" font-weight="bold" text-anchor="middle" transform="rotate(-90 291.30 74.00)">Chymotrypsin-like Activity</text>
<text x="300.50" y="73.20" font-size="7.3" stroke="#1a1a1a" stroke-width="0.32" font-weight="bold" text-anchor="middle" transform="rotate(-90 300.50 73.20)">(RFU)</text>
<rect x="335.50" y="37.90" width="20.10" height="99.50" fill="#1c1c1c" />
<line x1="345.70" y1="31.80" x2="345.70" y2="37.90" stroke="#1a1a1a" stroke-width="0.7" />
<line x1="343.50" y1="31.80" x2="347.90" y2="31.80" stroke="#1a1a1a" stroke-width="0.7" />
<rect x="434.00" y="45.30" width="20.00" height="92.10" fill="#1c1c1c" />
<line x1="444.10" y1="41.00" x2="444.10" y2="45.30" stroke="#1a1a1a" stroke-width="0.7" />
<line x1="441.90" y1="41.00" x2="446.30" y2="41.00" stroke="#1a1a1a" stroke-width="0.7" />
<rect x="384.60" y="136.60" width="20.10" height="0.80" fill="#1c1c1c" />
<line x1="392.50" y1="136.20" x2="397.00" y2="136.20" stroke="#1a1a1a" stroke-width="0.5" />
<rect x="483.30" y="136.60" width="20.00" height="0.80" fill="#1c1c1c" />
<line x1="491.00" y1="136.10" x2="495.50" y2="136.10" stroke="#1a1a1a" stroke-width="0.5" />
<text x="345.00" y="146.00" font-size="6.5" stroke="#1a1a1a" stroke-width="0.32" font-weight="bold" text-anchor="middle">Control</text>
<text x="394.80" y="146.00" font-size="6.6" stroke="#1a1a1a" stroke-width="0.32" font-weight="bold" text-anchor="middle">1 µM NPI-0052</text>
<text x="448.00" y="146.00" font-size="6.4" stroke="#1a1a1a" stroke-width="0.32" font-weight="bold" text-anchor="middle">24 mM NAC</text>
<text x="483.30" y="146.00" font-size="6.5" stroke="#1a1a1a" stroke-width="0.32" font-weight="bold">NPI-0052</text>
<text x="483.30" y="154.00" font-size="6.5" stroke="#1a1a1a" stroke-width="0.32" font-weight="bold">+NAC</text>
<text x="274.50" y="198.50" font-size="17.2" stroke="#1a1a1a" stroke-width="0.32" font-weight="bold">E</text>
<rect x="376.9" y="277.2" width="127.6" height="42.3" fill="#e7e7e7"/>
<rect x="376.9" y="277.2" width="127.6" height="77.3" fill="none" stroke="#909090" stroke-width="0.8"/>
<text x="391.00" y="274.00" font-size="7.9" stroke="#1a1a1a" stroke-width="0.32" font-weight="bold" transform="rotate(-90 391.00 274.00)">Control</text>
<text x="414.90" y="274.00" font-size="7.9" stroke="#1a1a1a" stroke-width="0.32" font-weight="bold" transform="rotate(-90 414.90 274.00)">24 mM NAC</text>
<text x="439.80" y="274.00" font-size="8.0" stroke="#1a1a1a" stroke-width="0.32" font-weight="bold" transform="rotate(-90 439.80 274.00)">200 nM NPI-0052</text>
<text x="466.80" y="274.00" font-size="8.0" stroke="#1a1a1a" stroke-width="0.32" font-weight="bold" transform="rotate(-90 466.80 274.00)">200 nM NPI-0052</text>
<text x="476.00" y="274.00" font-size="8.0" stroke="#1a1a1a" stroke-width="0.32" font-weight="bold" transform="rotate(-90 476.00 274.00)">+24 mM NAC</text>
<text x="493.00" y="274.00" font-size="8.1" stroke="#1a1a1a" stroke-width="0.32" font-weight="bold" transform="rotate(-90 493.00 274.00)">200 ng/mL CH-11</text>
<text x="364.20" y="289.90" font-size="7.3" stroke="#1a1a1a" stroke-width="0.32" font-weight="bold" text-anchor="end">Pro- caspase 8 (57kD)</text>
<line x1="375.60" y1="284.70" x2="369.60" y2="284.70" stroke="#1a1a1a" stroke-width="1.2" />
<polygon points="365.60,284.70 369.60,282.70 369.60,286.70" fill="#1a1a1a"/>
<text x="364.20" y="305.20" font-size="7.3" stroke="#1a1a1a" stroke-width="0.32" font-weight="bold" text-anchor="end">Cleaved Caspase 8</text>
<line x1="375.60" y1="301.90" x2="369.60" y2="301.90" stroke="#1a1a1a" stroke-width="1.2" />
<polygon points="365.60,301.90 369.60,299.90 369.60,303.90" fill="#1a1a1a"/>
<text x="298.50" y="313.80" font-size="7.3" stroke="#1a1a1a" stroke-width="0.32" font-weight="bold">(43/41kD)</text>
<text x="361.90" y="344.20" font-size="7.3" stroke="#1a1a1a" stroke-width="0.32" font-weight="bold" text-anchor="end">Actin</text>
<line x1="375.60" y1="341.70" x2="369.60" y2="341.70" stroke="#1a1a1a" stroke-width="1.2" />
<polygon points="365.60,341.70 369.60,339.70 369.60,343.70" fill="#1a1a1a"/>
<rect x="381.5" y="282.30" width="20.3" height="2.40" rx="1.20" fill="#8a8a8a" opacity="0.75" filter="url(#b9)"/>
<rect x="381.5" y="285.80" width="20.3" height="2.20" rx="1.10" fill="#959595" opacity="0.7" filter="url(#b9)"/>
<rect x="407.0" y="282.10" width="18.4" height="2.60" rx="1.30" fill="#3c3c3c" opacity="0.85" filter="url(#b8)"/>
<rect x="407.5" y="285.80" width="17.5" height="2.20" rx="1.10" fill="#606060" opacity="0.75" filter="url(#b9)"/>
<rect x="436.0" y="282.60" width="16.0" height="1.80" rx="0.90" fill="#aaa" opacity="0.6" filter="url(#b9)"/>
<rect x="437.0" y="285.80" width="15.0" height="1.60" rx="0.80" fill="#b5b5b5" opacity="0.55" filter="url(#b9)"/>
<rect x="457.5" y="282.55" width="18.5" height="1.90" rx="0.95" fill="#999" opacity="0.6" filter="url(#b9)"/>
<rect x="468.5" y="282.40" width="7.5" height="2.20" rx="1.10" fill="#555" opacity="0.65" filter="url(#b9)"/>
<rect x="457.5" y="286.15" width="18.5" height="1.70" rx="0.85" fill="#a5a5a5" opacity="0.55" filter="url(#b9)"/>
<rect x="469.0" y="286.00" width="7.0" height="2.00" rx="1.00" fill="#666" opacity="0.6" filter="url(#b9)"/>
<rect x="480.8" y="281.80" width="21.4" height="4.00" rx="1.60" fill="#060606" opacity="1" filter="url(#b7)"/>
<rect x="481.2" y="286.00" width="20.8" height="3.20" rx="1.60" fill="#0c0c0c" opacity="1" filter="url(#b7)"/>
<rect x="432.6" y="299.55" width="18.8" height="2.10" rx="1.05" fill="#777" opacity="0.65" filter="url(#b9)"/>
<rect x="433.0" y="305.15" width="18.2" height="1.90" rx="0.95" fill="#808080" opacity="0.6" filter="url(#b9)"/>
<rect x="458.5" y="299.75" width="17.0" height="1.70" rx="0.85" fill="#999" opacity="0.55" filter="url(#b9)"/>
<rect x="458.5" y="305.30" width="17.0" height="1.60" rx="0.80" fill="#999" opacity="0.55" filter="url(#b9)"/>
<rect x="468.0" y="305.40" width="7.5" height="1.60" rx="0.80" fill="#666" opacity="0.5" filter="url(#b9)"/>
<rect x="481.8" y="299.10" width="20.0" height="3.00" rx="1.50" fill="#101010" opacity="1" filter="url(#b7)"/>
<rect x="482.2" y="305.15" width="19.4" height="2.30" rx="1.15" fill="#222" opacity="0.95" filter="url(#b7)"/>
<circle cx="473.7" cy="311.3" r="0.7" fill="#777"/>
<rect x="379.2" y="339.90" width="22.8" height="4.60" rx="1.60" fill="#0e0e0e" opacity="1" filter="url(#b7)"/>
<rect x="406.2" y="340.20" width="19.2" height="3.80" rx="1.60" fill="#141414" opacity="1" filter="url(#b7)"/>
<rect x="431.2" y="340.00" width="21.1" height="4.00" rx="1.60" fill="#121212" opacity="1" filter="url(#b7)"/>
<rect x="456.6" y="340.10" width="20.0" height="3.80" rx="1.60" fill="#141414" opacity="1" filter="url(#b7)"/>
<rect x="482.6" y="341.40" width="20.0" height="2.60" rx="1.30" fill="#2a2a2a" opacity="0.95" filter="url(#b7)"/>
<text x="274.50" y="384.70" font-size="17.2" stroke="#1a1a1a" stroke-width="0.32" font-weight="bold">F</text>
<line x1="285.80" y1="388.80" x2="285.80" y2="499.30" stroke="#1a1a1a" stroke-width="0.8" />
<line x1="285.80" y1="499.30" x2="413.00" y2="499.30" stroke="#1a1a1a" stroke-width="0.8" />
<line x1="285.80" y1="485.50" x2="287.80" y2="485.50" stroke="#1a1a1a" stroke-width="0.6" />
<line x1="285.80" y1="471.70" x2="287.80" y2="471.70" stroke="#1a1a1a" stroke-width="0.6" />
<line x1="285.80" y1="457.90" x2="287.80" y2="457.90" stroke="#1a1a1a" stroke-width="0.6" />
<line x1="285.80" y1="444.10" x2="287.80" y2="444.10" stroke="#1a1a1a" stroke-width="0.6" />
<line x1="285.80" y1="430.30" x2="287.80" y2="430.30" stroke="#1a1a1a" stroke-width="0.6" />
<line x1="285.80" y1="416.50" x2="287.80" y2="416.50" stroke="#1a1a1a" stroke-width="0.6" />
<line x1="285.80" y1="402.70" x2="287.80" y2="402.70" stroke="#1a1a1a" stroke-width="0.6" />
<line x1="285.80" y1="388.90" x2="287.80" y2="388.90" stroke="#1a1a1a" stroke-width="0.6" />
<line x1="286.70" y1="436.00" x2="286.70" y2="499.30" stroke="#111" stroke-width="1.3" />
<line x1="285.80" y1="499.30" x2="285.80" y2="501.50" stroke="#1a1a1a" stroke-width="0.6" />
<text x="283.20" y="508.60" font-size="6.2" stroke="#222" stroke-width="0.18" font-family="'Liberation Serif',serif" fill="#222">10<tspan dy="-2.6" font-size="4.6">0</tspan></text>
<line x1="295.37" y1="499.30" x2="295.37" y2="500.50" stroke="#444" stroke-width="0.35" />
<line x1="300.97" y1="499.30" x2="300.97" y2="500.50" stroke="#444" stroke-width="0.35" />
<line x1="304.95" y1="499.30" x2="304.95" y2="500.50" stroke="#444" stroke-width="0.35" />
<line x1="308.03" y1="499.30" x2="308.03" y2="500.50" stroke="#444" stroke-width="0.35" />
<line x1="310.55" y1="499.30" x2="310.55" y2="500.50" stroke="#444" stroke-width="0.35" />
<line x1="312.67" y1="499.30" x2="312.67" y2="500.50" stroke="#444" stroke-width="0.35" />
<line x1="314.52" y1="499.30" x2="314.52" y2="500.50" stroke="#444" stroke-width="0.35" />
<line x1="316.14" y1="499.30" x2="316.14" y2="500.50" stroke="#444" stroke-width="0.35" />
<line x1="317.60" y1="499.30" x2="317.60" y2="501.50" stroke="#1a1a1a" stroke-width="0.6" />
<text x="315.00" y="508.60" font-size="6.2" stroke="#222" stroke-width="0.18" font-family="'Liberation Serif',serif" fill="#222">10<tspan dy="-2.6" font-size="4.6">1</tspan></text>
<line x1="327.17" y1="499.30" x2="327.17" y2="500.50" stroke="#444" stroke-width="0.35" />
<line x1="332.77" y1="499.30" x2="332.77" y2="500.50" stroke="#444" stroke-width="0.35" />
<line x1="336.75" y1="499.30" x2="336.75" y2="500.50" stroke="#444" stroke-width="0.35" />
<line x1="339.83" y1="499.30" x2="339.83" y2="500.50" stroke="#444" stroke-width="0.35" />
<line x1="342.35" y1="499.30" x2="342.35" y2="500.50" stroke="#444" stroke-width="0.35" />
<line x1="344.47" y1="499.30" x2="344.47" y2="500.50" stroke="#444" stroke-width="0.35" />
<line x1="346.32" y1="499.30" x2="346.32" y2="500.50" stroke="#444" stroke-width="0.35" />
<line x1="347.94" y1="499.30" x2="347.94" y2="500.50" stroke="#444" stroke-width="0.35" />
<line x1="349.40" y1="499.30" x2="349.40" y2="501.50" stroke="#1a1a1a" stroke-width="0.6" />
<text x="346.80" y="508.60" font-size="6.2" stroke="#222" stroke-width="0.18" font-family="'Liberation Serif',serif" fill="#222">10<tspan dy="-2.6" font-size="4.6">2</tspan></text>
<line x1="358.97" y1="499.30" x2="358.97" y2="500.50" stroke="#444" stroke-width="0.35" />
<line x1="364.57" y1="499.30" x2="364.57" y2="500.50" stroke="#444" stroke-width="0.35" />
<line x1="368.55" y1="499.30" x2="368.55" y2="500.50" stroke="#444" stroke-width="0.35" />
<line x1="371.63" y1="499.30" x2="371.63" y2="500.50" stroke="#444" stroke-width="0.35" />
<line x1="374.15" y1="499.30" x2="374.15" y2="500.50" stroke="#444" stroke-width="0.35" />
<line x1="376.27" y1="499.30" x2="376.27" y2="500.50" stroke="#444" stroke-width="0.35" />
<line x1="378.12" y1="499.30" x2="378.12" y2="500.50" stroke="#444" stroke-width="0.35" />
<line x1="379.74" y1="499.30" x2="379.74" y2="500.50" stroke="#444" stroke-width="0.35" />
<line x1="381.20" y1="499.30" x2="381.20" y2="501.50" stroke="#1a1a1a" stroke-width="0.6" />
<text x="378.60" y="508.60" font-size="6.2" stroke="#222" stroke-width="0.18" font-family="'Liberation Serif',serif" fill="#222">10<tspan dy="-2.6" font-size="4.6">3</tspan></text>
<line x1="390.77" y1="499.30" x2="390.77" y2="500.50" stroke="#444" stroke-width="0.35" />
<line x1="396.37" y1="499.30" x2="396.37" y2="500.50" stroke="#444" stroke-width="0.35" />
<line x1="400.35" y1="499.30" x2="400.35" y2="500.50" stroke="#444" stroke-width="0.35" />
<line x1="403.43" y1="499.30" x2="403.43" y2="500.50" stroke="#444" stroke-width="0.35" />
<line x1="405.95" y1="499.30" x2="405.95" y2="500.50" stroke="#444" stroke-width="0.35" />
<line x1="408.07" y1="499.30" x2="408.07" y2="500.50" stroke="#444" stroke-width="0.35" />
<line x1="409.92" y1="499.30" x2="409.92" y2="500.50" stroke="#444" stroke-width="0.35" />
<line x1="411.54" y1="499.30" x2="411.54" y2="500.50" stroke="#444" stroke-width="0.35" />
<line x1="413.00" y1="499.30" x2="413.00" y2="501.50" stroke="#1a1a1a" stroke-width="0.6" />
<text x="410.40" y="508.60" font-size="6.2" stroke="#222" stroke-width="0.18" font-family="'Liberation Serif',serif" fill="#222">10<tspan dy="-2.6" font-size="4.6">4</tspan></text>
<text x="347.80" y="514.80" font-size="4.9" stroke="#222" stroke-width="0.1" font-weight="bold" text-anchor="middle" font-family="'Liberation Serif',serif" fill="#222">FL3-H</text>
<polyline points="285.8,475.4 286.4,475.0 287.0,471.3 287.7,478.1 288.3,478.5 288.9,478.4 289.5,484.0 290.1,480.9 290.8,480.2 291.4,479.1 292.0,487.7 292.6,485.9 293.2,488.8 293.9,481.6 294.5,483.4 295.1,490.7 295.7,481.5 296.3,482.2 297.0,485.8 297.6,486.6 298.2,491.5 298.8,493.2 299.4,488.6 300.1,493.4 300.7,492.4 301.3,492.2 301.9,494.4 302.5,490.7 303.2,491.2 303.8,487.9 304.4,491.0 305.0,490.1 305.6,491.5 306.3,490.3 306.9,492.2 307.5,493.9 308.1,488.0 308.7,488.2 309.4,489.6 310.0,490.8 310.6,494.0 311.2,494.8 311.8,494.3 312.5,496.1 313.1,490.5 313.7,493.4 314.3,489.8 314.9,493.5 315.6,488.8 316.2,489.6 316.8,496.4 317.4,494.6 318.0,488.6 318.7,492.1 319.3,487.6 319.9,492.3 320.5,494.9 321.1,489.8 321.8,488.2 322.4,492.4 323.0,493.8 323.6,491.2 324.2,484.9 324.9,486.4 325.5,492.1 326.1,490.5 326.7,491.5 327.3,491.5 328.0,483.5 328.6,489.3 329.2,484.8 329.8,485.5 330.4,487.7 331.1,481.3 331.7,487.4 332.3,481.1 332.9,486.6 333.5,482.6 334.2,484.5 334.8,483.3 335.4,474.4 336.0,475.9 336.6,481.5 337.3,473.9 337.9,481.8 338.5,479.1 339.1,472.9 339.7,475.2 340.4,481.8 341.0,470.0 341.6,479.7 342.2,478.9 342.8,471.9 343.5,477.4 344.1,477.6 344.7,480.4 345.3,480.0 345.9,473.2 346.6,477.6 347.2,472.6 347.8,475.6 348.4,474.3 349.0,467.3 349.7,473.7 350.3,472.3 350.9,468.3 351.5,477.5 352.1,477.8 352.8,467.4 353.4,468.6 354.0,476.3 354.6,477.1 355.2,469.5 355.9,466.7 356.5,476.9 357.1,466.5 357.7,467.3 358.3,471.2 359.0,473.6 359.6,478.0 360.2,478.9 360.8,466.1 361.4,476.1 362.1,469.6 362.7,475.8 363.3,468.0 363.9,471.1 364.5,475.3 365.2,476.9 365.8,469.4 366.4,478.3 367.0,476.1 367.6,471.6 368.3,467.5 368.9,470.8 369.5,475.4 370.1,466.7 370.7,476.5 371.4,479.1 372.0,475.7 372.6,473.3 373.2,478.6 373.8,477.0 374.5,474.4 375.1,471.7 375.7,477.8 376.3,474.8 376.9,467.6 377.6,466.6 378.2,471.1 378.8,470.9 379.4,472.5 380.0,478.8 380.7,480.5 381.3,481.0 381.9,469.6 382.5,472.8 383.1,470.0 383.8,482.8 384.4,475.6 385.0,478.3 385.6,476.1 386.2,482.0 386.9,474.9 387.5,486.8 388.1,482.4 388.7,481.4 389.3,480.9 390.0,483.8 390.6,485.3 391.2,485.5 391.8,485.5 392.4,491.6 393.1,489.5 393.7,488.5 394.3,489.5 394.9,493.8 395.5,491.5 396.2,491.4 396.8,494.0 397.4,494.0 398.0,496.0 398.6,494.9 399.3,494.9 399.9,498.6 400.5,495.1 401.1,493.0 401.7,493.9 402.4,494.9 403.0,497.1 403.6,495.0 404.2,496.0 404.8,496.9 405.5,494.6 406.1,498.8 406.7,495.2 407.3,498.8 407.9,496.1 408.6,496.8 409.2,498.3 409.8,495.6 410.4,496.8 411.0,496.1 411.7,494.3 412.3,498.2 412.9,498.8" fill="none" stroke="#1a1a1a" stroke-width="0.7" stroke-linejoin="round" />
<polyline points="303.8,498.4 304.5,497.0 305.2,498.7 305.9,498.8 306.6,496.1 307.3,497.0 308.0,497.7 308.7,496.0 309.4,498.1 310.1,496.8 310.8,498.5 311.5,497.5 312.2,496.0 312.9,495.5 313.6,495.5 314.3,497.4 315.0,496.4 315.7,497.4 316.4,498.1 317.1,496.4 317.8,494.6 318.5,494.3 319.2,494.7 319.9,493.2 320.6,496.3 321.3,496.5 322.0,494.7 322.7,495.3 323.4,495.2 324.1,493.6 324.8,491.8 325.5,492.0 326.2,492.6 326.9,488.3 327.6,486.5 328.3,489.4 329.0,491.5 329.7,491.0 330.4,483.3 331.1,489.2 331.8,482.5 332.5,482.5 333.2,483.8 333.9,478.1 334.6,484.5 335.3,482.2 336.0,477.8 336.7,481.1 337.4,471.3 338.1,476.5 338.8,476.5 339.5,476.4 340.2,468.4 340.9,469.4 341.6,465.9 342.3,464.4 343.0,461.2 343.7,458.0 344.4,460.4 345.1,465.7 345.8,460.9 346.5,463.9 347.2,465.2 347.9,457.9 348.6,453.6 349.3,460.3 350.0,458.3 350.7,456.6 351.4,450.9 352.1,453.0 352.8,451.3 353.5,449.0 354.2,454.2 354.9,448.3 355.6,446.7 356.3,458.9 357.0,446.9 357.7,450.3 358.4,459.4 359.1,455.2 359.8,453.3 360.5,449.9 361.2,458.1 361.9,456.1 362.6,452.4 363.3,454.3 364.0,453.0 364.7,460.2 365.4,458.2 366.1,464.8 366.8,458.4 367.5,457.7 368.2,460.5 368.9,459.9 369.6,466.9 370.3,458.4 371.0,457.7 371.7,458.1 372.4,464.0 373.1,461.1 373.8,467.4 374.5,460.2 375.2,461.3 375.9,468.0 376.6,471.7 377.3,467.7 378.0,466.9 378.7,464.9 379.4,469.0 380.1,475.3 380.8,467.0 381.5,476.7 382.2,469.5 382.9,477.8 383.6,477.5 384.3,474.3 385.0,482.5 385.7,484.0 386.4,482.1 387.1,482.0 387.8,482.7 388.5,485.6 389.2,485.2 389.9,489.9 390.6,488.0 391.3,494.7 392.0,494.7 392.7,493.6 393.4,495.6 394.1,493.8 394.8,494.8 395.5,495.8 396.2,494.7 396.9,496.3 397.6,497.5 398.3,497.4 399.0,495.7 399.7,495.7 400.4,498.4 401.1,496.1 401.8,495.8 402.5,497.5 403.2,497.3 403.9,498.7 404.6,497.5 405.3,497.7 406.0,497.3 406.7,498.8" fill="none" stroke="#222" stroke-width="0.8" stroke-linejoin="round" stroke-dasharray="1.1 0.7"/>
<polyline points="307.8,496.2 308.5,497.5 309.2,497.9 309.9,496.6 310.6,497.3 311.3,497.5 312.0,496.8 312.7,498.8 313.4,497.2 314.1,497.5 314.8,495.7 315.5,495.7 316.2,497.8 316.9,497.0 317.6,498.1 318.3,496.9 319.0,495.3 319.7,494.8 320.4,496.2 321.1,496.6 321.8,496.9 322.5,494.9 323.2,493.3 323.9,496.4 324.6,493.1 325.3,496.2 326.0,495.0 326.7,494.4 327.4,491.5 328.1,492.8 328.8,492.0 329.5,489.8 330.2,492.1 330.9,487.4 331.6,490.4 332.3,487.0 333.0,487.8 333.7,487.2 334.4,483.7 335.1,483.3 335.8,482.7 336.5,481.3 337.2,479.2 337.9,481.1 338.6,479.7 339.3,474.9 340.0,473.7 340.7,473.6 341.4,469.6 342.1,470.8 342.8,467.5 343.5,472.6 344.2,466.8 344.9,465.2 345.6,463.5 346.3,468.7 347.0,468.0 347.7,461.1 348.4,467.8 349.1,459.1 349.8,459.7 350.5,467.1 351.2,465.5 351.9,459.8 352.6,464.4 353.3,465.7 354.0,457.3 354.7,461.4 355.4,457.0 356.1,464.0 356.8,460.6 357.5,457.2 358.2,464.4 358.9,462.1 359.6,456.5 360.3,453.8 361.0,453.0 361.7,462.5 362.4,458.1 363.1,455.2 363.8,458.1 364.5,456.1 365.2,461.8 365.9,463.3 366.6,463.0 367.3,463.9 368.0,458.3 368.7,458.9 369.4,458.5 370.1,463.4 370.8,463.2 371.5,463.2 372.2,456.4 372.9,454.9 373.6,455.8 374.3,465.1 375.0,465.6 375.7,456.1 376.4,461.6 377.1,458.5 377.8,463.4 378.5,462.1 379.2,461.8 379.9,462.9 380.6,461.4 381.3,468.1 382.0,461.3 382.7,460.5 383.4,468.2 384.1,466.5 384.8,465.0 385.5,470.0 386.2,474.0 386.9,476.6 387.6,476.0 388.3,482.9 389.0,478.8 389.7,482.4 390.4,485.8 391.1,487.2 391.8,490.5 392.5,493.3 393.2,493.5 393.9,494.9 394.6,493.7 395.3,495.1 396.0,497.5 396.7,495.5 397.4,496.4 398.1,496.4 398.8,496.5 399.5,497.9 400.2,496.4 400.9,496.5 401.6,497.1 402.3,496.9 403.0,497.0 403.7,498.0 404.4,497.1" fill="none" stroke="#111" stroke-width="1.2" stroke-linejoin="round" stroke-dasharray="1.9 1.2"/>
<polyline points="285.8,496.1 286.4,496.7 287.0,496.9 287.6,495.9 288.2,496.7 288.8,497.3 289.4,497.3 290.0,496.4 290.6,498.0 291.2,497.4 291.8,496.6 292.4,497.3 293.0,497.2 293.6,497.1 294.2,496.8 294.8,498.1 295.4,497.3 296.0,497.4 296.6,497.6 297.2,498.0 297.8,496.0 298.4,497.3 299.0,497.5 299.6,496.5 300.2,496.8 300.8,496.0 301.4,496.3 302.0,496.7 302.6,496.1 303.2,496.5 303.8,497.9 304.4,497.1 305.0,497.0 305.6,498.0 306.2,497.0 306.8,497.9 307.4,497.1 308.0,497.4 308.6,495.7 309.2,496.8 309.8,497.0 310.4,495.1 311.0,497.1 311.6,495.1 312.2,495.7 312.8,494.6 313.4,494.3 314.0,493.5 314.6,490.6 315.2,492.4 315.8,489.5 316.4,488.2 317.0,486.0 317.6,482.4 318.2,479.4 318.8,478.6 319.4,474.3 320.0,468.8 320.6,467.2 321.2,460.6 321.8,453.6 322.4,449.6 323.0,442.7 323.6,438.7 324.2,438.5 324.8,431.1 325.4,431.5 326.0,426.9 326.6,417.6 327.2,422.0 327.8,418.1 328.4,406.9 329.0,410.7 329.6,402.9 330.2,398.2 330.8,397.9 331.4,388.0 332.0,392.2 332.6,397.7 333.2,397.9 333.8,397.8 334.4,401.7 335.0,397.8 335.6,393.9 336.2,387.9 336.8,394.5 337.4,397.6 338.0,400.0 338.6,404.5 339.2,414.8 339.8,417.7 340.4,427.7 341.0,436.7 341.6,442.4 342.2,447.1 342.8,455.3 343.4,460.3 344.0,468.2 344.6,471.6 345.2,478.7 345.8,483.1 346.4,485.9 347.0,485.8 347.6,487.3 348.2,492.0 348.8,493.4 349.4,493.9 350.0,493.7 350.6,494.1 351.2,495.7 351.8,496.0 352.4,496.3 353.0,496.4 353.6,496.7 354.2,495.4 354.8,495.6 355.4,497.4 356.0,497.3 356.6,497.2 357.2,495.3 357.8,495.4 358.4,496.0 359.0,496.4 359.6,496.9 360.2,495.7 360.8,496.6 361.4,495.5 362.0,495.5 362.6,496.8 363.2,496.5 363.8,496.6 364.4,495.9 365.0,496.1 365.6,495.4 366.2,495.7 366.8,496.6 367.4,496.8 368.0,494.9 368.6,495.0 369.2,496.6 369.8,496.1 370.4,496.4 371.0,495.0 371.6,495.4 372.2,495.0 372.8,496.4 373.4,495.3 374.0,496.1 374.6,496.9 375.2,495.3 375.8,495.8 376.4,496.4 377.0,496.8 377.6,495.6 378.2,495.5 378.8,494.8 379.4,496.8 380.0,494.8 380.6,494.9 381.2,496.1 381.8,495.9 382.4,496.4 383.0,495.5 383.6,496.7 384.2,495.0 384.8,495.4 385.4,496.5 386.0,495.1 386.6,495.7 387.2,496.8 387.8,496.7 388.4,495.8 389.0,495.5 389.6,496.1 390.2,497.0 390.8,496.2 391.4,495.7 392.0,497.1 392.6,496.8 393.2,497.6 393.8,497.7 394.4,497.7 395.0,496.7 395.6,497.5 396.2,496.4 396.8,496.5 397.4,496.7 398.0,497.9 398.6,497.8 399.2,496.4 399.8,496.7 400.4,496.7 401.0,496.8 401.6,496.9 402.2,496.9 402.8,496.5 403.4,497.3 404.0,497.8 404.6,497.3 405.2,498.0 405.8,497.4 406.4,496.6 407.0,497.9 407.6,498.1 408.2,496.9 408.8,496.4 409.4,497.5 410.0,497.6 410.6,497.6 411.2,498.5 411.8,497.9 412.4,498.2" fill="none" stroke="#0c0c0c" stroke-width="1.55" stroke-linejoin="round" />
<text x="349.50" y="396.30" font-size="8.6" stroke="#1a1a1a" stroke-width="0.18">Control</text>
<line x1="349.60" y1="395.00" x2="344.71" y2="397.74" stroke="#1a1a1a" stroke-width="1.1" />
<polygon points="341.40,399.60 343.78,396.08 345.64,399.40" fill="#1a1a1a"/>
<text x="360.80" y="442.90" font-size="8.7" stroke="#1a1a1a" stroke-width="0.18">NPI-0052 +IETDfmk</text>
<line x1="357.80" y1="440.80" x2="353.37" y2="443.71" stroke="#1a1a1a" stroke-width="1.1" />
<polygon points="350.20,445.80 352.33,442.12 354.42,445.30" fill="#1a1a1a"/>
<text x="401.00" y="460.60" font-size="8.6" stroke="#1a1a1a" stroke-width="0.18">NPI-0052</text>
<text x="401.50" y="470.60" font-size="8.6" stroke="#1a1a1a" stroke-width="0.18">+zVAD</text>
<line x1="398.40" y1="458.00" x2="392.40" y2="461.85" stroke="#1a1a1a" stroke-width="1.1" />
<polygon points="389.20,463.90 391.37,460.25 393.42,463.45" fill="#1a1a1a"/>
<text x="396.70" y="483.50" font-size="8.6" stroke="#1a1a1a" stroke-width="0.18">NPI-0052</text>
<line x1="397.00" y1="480.60" x2="391.37" y2="481.32" stroke="#1a1a1a" stroke-width="1.1" />
<polygon points="387.60,481.80 391.13,479.43 391.61,483.20" fill="#1a1a1a"/>
</svg>
</body>
</html>
